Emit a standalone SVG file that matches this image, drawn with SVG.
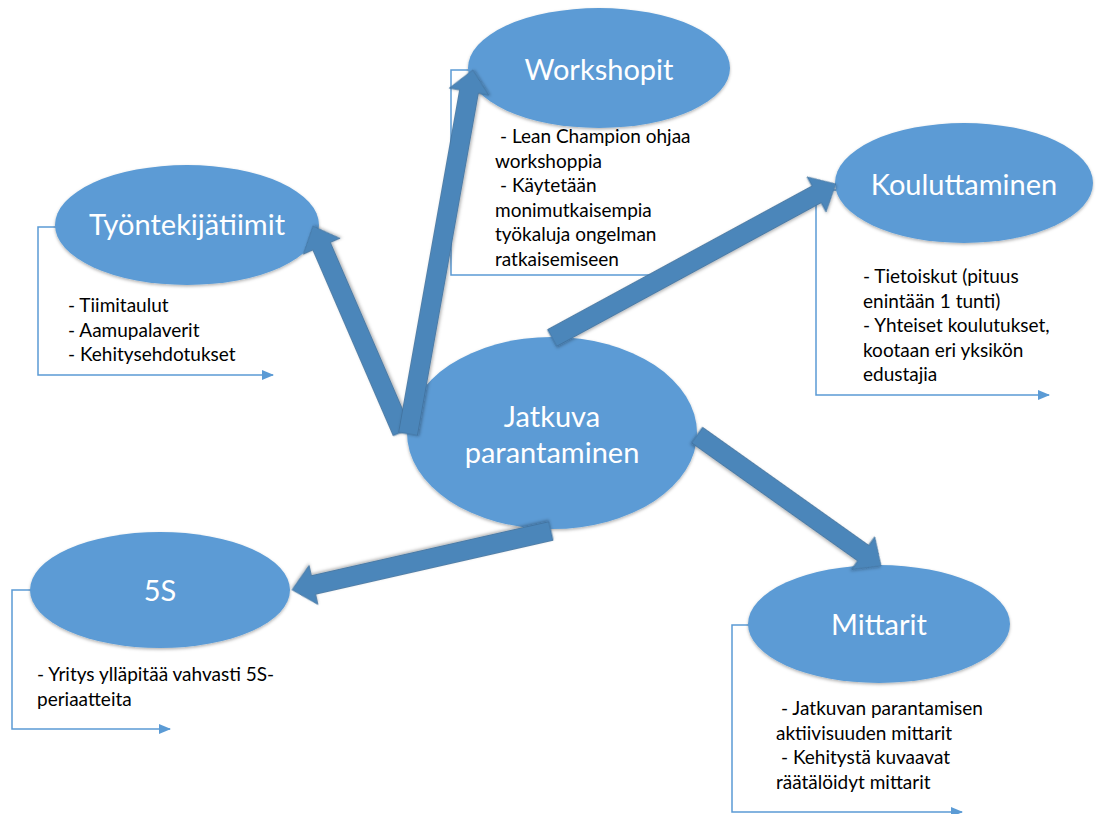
<svg xmlns="http://www.w3.org/2000/svg" width="1097" height="814" viewBox="0 0 1097 814">
  <defs>
    <filter id="soft" x="-10%" y="-10%" width="120%" height="125%">
      <feDropShadow dx="0" dy="1.5" stdDeviation="1.8" flood-color="#000" flood-opacity="0.3"/>
    </filter>
    <marker id="tip" viewBox="0 0 12 10" refX="11" refY="5" markerWidth="12" markerHeight="10" markerUnits="userSpaceOnUse" orient="auto">
      <path d="M0,0 L12,5 L0,10 Z" fill="#5B9BD5"/>
    </marker>
  </defs>
  <style>
    .bubble { fill: #5B9BD5; filter: url(#soft); }
    .title { font-family: Lato, "Open Sans", sans-serif; font-size: 29px; fill: #ffffff; text-anchor: middle; }
    .body { font-family: Lato, "Open Sans", sans-serif; font-size: 19px; fill: #000000; }
    .bracket { fill: none; stroke: #5B9BD5; stroke-width: 1.5; marker-end: url(#tip); }
    .arrow { fill: #4C86BA; stroke: #41719C; stroke-width: 0.8; filter: url(#soft); }
  </style>
  <rect width="1097" height="814" fill="#ffffff"/>

  <!-- Työntekijätiimit -->
  <g id="tyontekijatiimit">
    <path class="bracket" d="M56,227 H38 V375 H273"/>
    <ellipse class="bubble" cx="187" cy="225" rx="132" ry="60"/>
    <text class="title" x="187" y="235">Työntekijätiimit</text>
    <text class="body" x="68" y="312">- Tiimitaulut</text>
    <text class="body" x="68" y="336.5">- Aamupalaverit</text>
    <text class="body" x="68" y="361">- Kehitysehdotukset</text>
  </g>

  <!-- Workshopit -->
  <g id="workshopit">
    <path class="bracket" d="M469,70 H451 V275 H672"/>
    <ellipse class="bubble" cx="599" cy="68" rx="131" ry="60"/>
    <text class="title" x="599" y="80">Workshopit</text>
    <text class="body" x="500" y="143">- Lean Champion ohjaa</text>
    <text class="body" x="495" y="167.5">workshoppia</text>
    <text class="body" x="500" y="192">- Käytetään</text>
    <text class="body" x="495" y="216.5">monimutkaisempia</text>
    <text class="body" x="495" y="241">työkaluja ongelman</text>
    <text class="body" x="495" y="265.5">ratkaisemiseen</text>
  </g>

  <!-- Kouluttaminen -->
  <g id="kouluttaminen">
    <path class="bracket" d="M836,190 H816 V395 H1049"/>
    <ellipse class="bubble" cx="964" cy="183" rx="129" ry="60"/>
    <text class="title" x="964" y="195">Kouluttaminen</text>
    <text class="body" x="863" y="283">- Tietoiskut (pituus</text>
    <text class="body" x="863" y="307.5">enintään 1 tunti)</text>
    <text class="body" x="863" y="332">- Yhteiset koulutukset,</text>
    <text class="body" x="863" y="356.5">kootaan eri yksikön</text>
    <text class="body" x="863" y="381">edustajia</text>
  </g>

  <!-- Jatkuva parantaminen -->
  <g id="jatkuva-parantaminen">
    <ellipse class="bubble" cx="552" cy="433" rx="145" ry="96"/>
    <text class="title" x="552" y="427">Jatkuva</text>
    <text class="title" x="552" y="463">parantaminen</text>
  </g>

  <!-- 5S -->
  <g id="viisi-s">
    <path class="bracket" d="M31,590 H12 V729 H170"/>
    <ellipse class="bubble" cx="160" cy="590" rx="130" ry="58"/>
    <text class="title" x="160" y="601">5S</text>
    <text class="body" x="37" y="681">- Yritys ylläpitää vahvasti 5S-</text>
    <text class="body" x="37" y="705.5">periaatteita</text>
  </g>

  <!-- Mittarit -->
  <g id="mittarit">
    <path class="bracket" d="M749,625 H732 V812 H962"/>
    <ellipse class="bubble" cx="879" cy="624" rx="131" ry="59"/>
    <text class="title" x="879" y="635">Mittarit</text>
    <text class="body" x="781" y="715">- Jatkuvan parantamisen</text>
    <text class="body" x="776" y="739.5">aktiivisuuden mittarit</text>
    <text class="body" x="781" y="764">- Kehitystä kuvaavat</text>
    <text class="body" x="776" y="788.5">räätälöidyt mittarit</text>
  </g>

  <!-- Block arrows from the centre to each theme (drawn along +x, then placed) -->
  <g id="connectors">
    <path class="arrow" transform="translate(402,432) rotate(-113.4)" d="M0,-9.5 H202.4 V-20 L224.4,0 L202.4,20 V9.5 H0 Z"/>
    <path class="arrow" transform="translate(408,434) rotate(-79.9)" d="M0,-9.5 H347.8 V-20 L369.8,0 L347.8,20 V9.5 H0 Z"/>
    <path class="arrow" transform="translate(552,338) rotate(-28.5)" d="M0,-9.5 H301 V-20 L323,0 L301,20 V9.5 H0 Z"/>
    <path class="arrow" transform="translate(697,435) rotate(35.4)" d="M0,-9.5 H203.9 V-20 L225.9,0 L203.9,20 V9.5 H0 Z"/>
    <path class="arrow" transform="translate(551,531) rotate(167.2)" d="M0,-9.5 H243.6 V-20 L265.6,0 L243.6,20 V9.5 H0 Z"/>
  </g>
</svg>
